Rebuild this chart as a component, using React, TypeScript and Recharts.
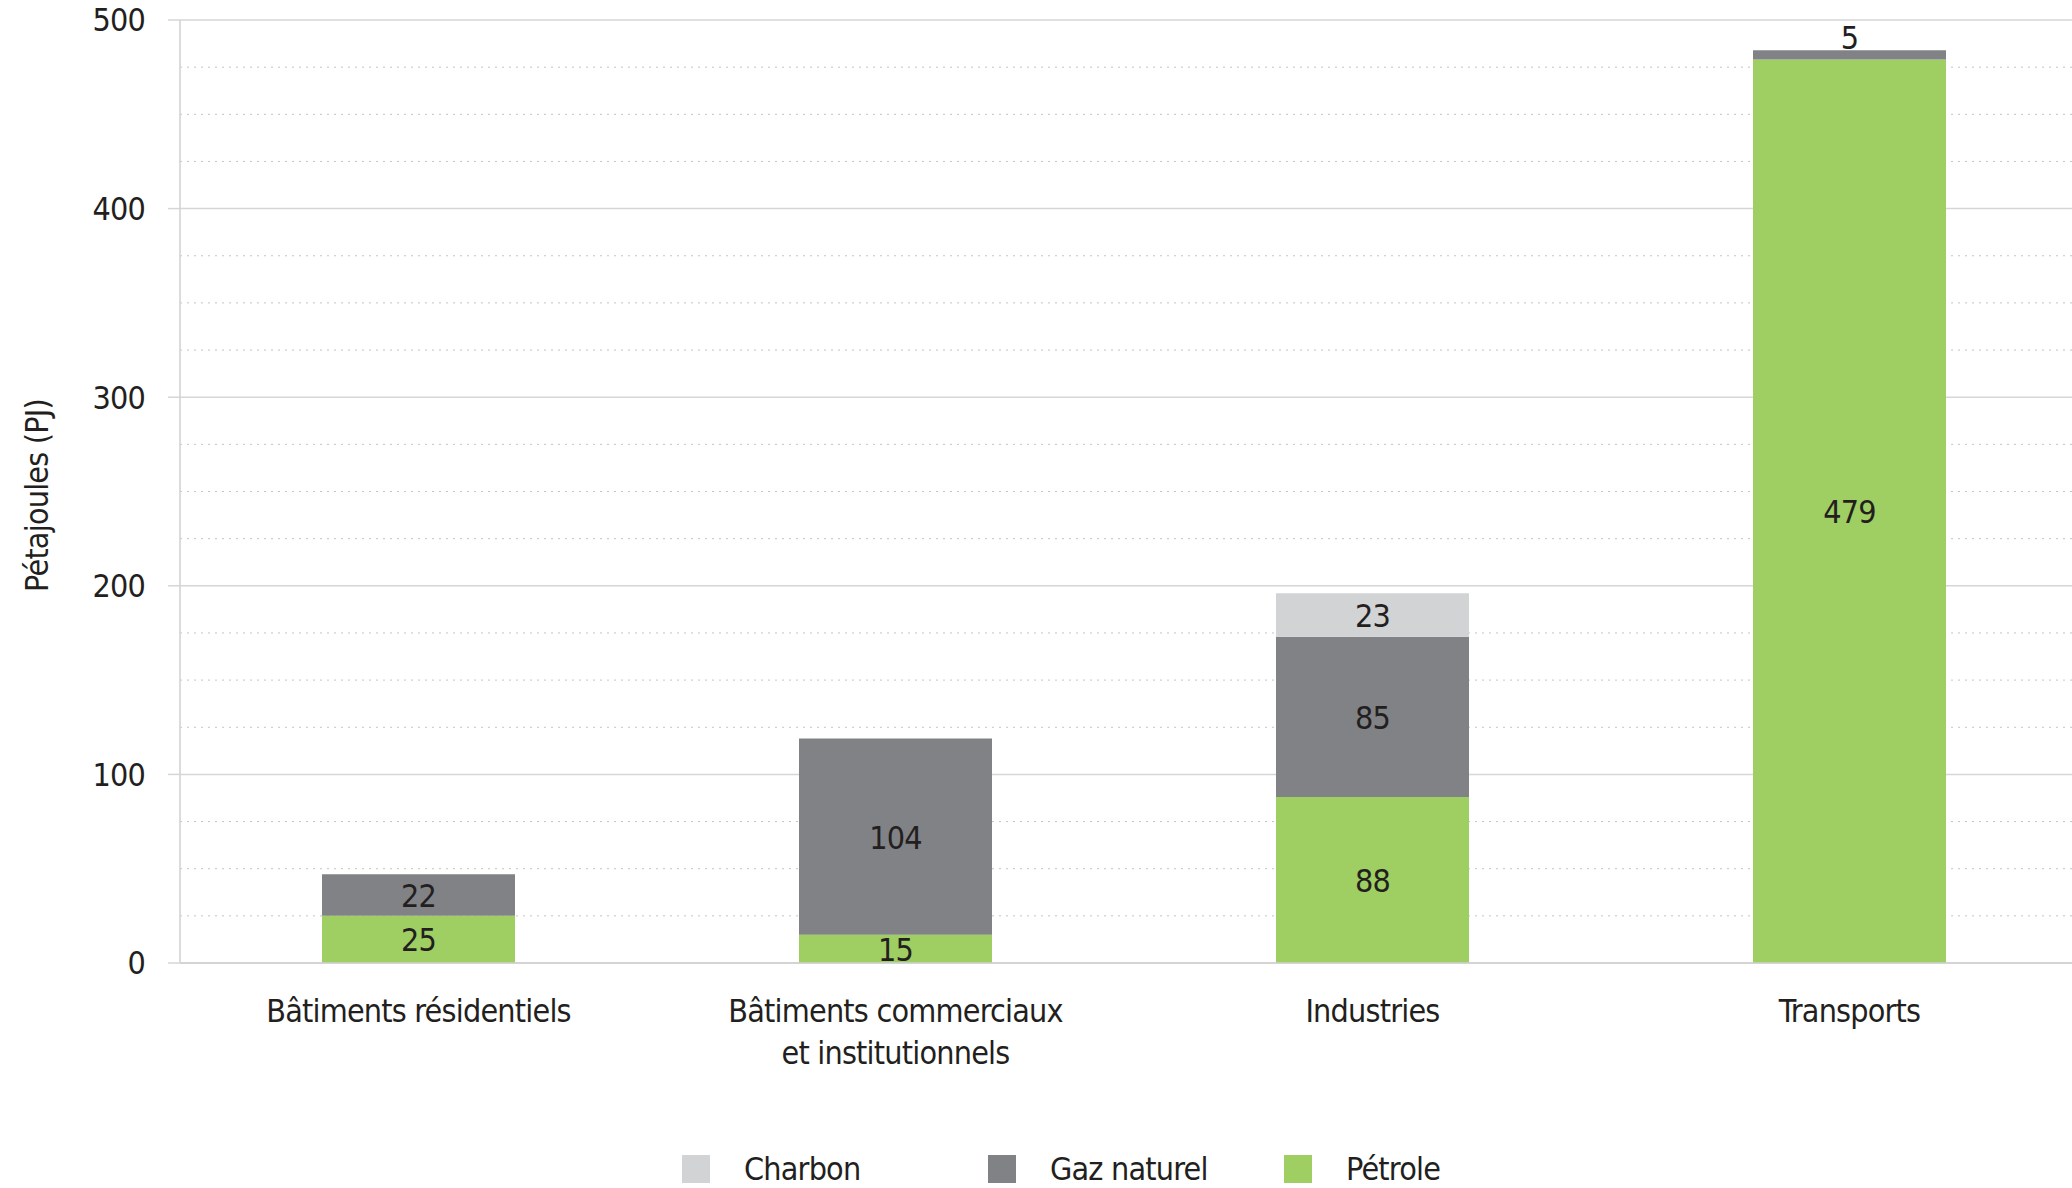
import React from "react";
import { Bar, BarChart, CartesianGrid, Label, LabelList, Legend, XAxis, YAxis } from "recharts";

const categories = [
  "Bâtiments résidentiels",
  "Bâtiments commerciaux\net institutionnels",
  "Industries",
  "Transports",
];
const petrole = [25, 15, 88, 479];
const gazNaturel = [22, 104, 85, 5];
const charbon = [null, null, 23, null];
const yTicks = [0, 100, 200, 300, 400, 500];
const minorTicks = [25, 50, 75, 125, 150, 175, 225, 250, 275, 325, 350, 375, 425, 450, 475];

const series = [
  { key: "charbon", name: "Charbon", color: "#d1d3d4" },
  { key: "gaz", name: "Gaz naturel", color: "#808285" },
  { key: "petrole", name: "Pétrole", color: "#9fce63" },
];

const data = categories.map((name, i) => ({
  name,
  petrole: petrole[i],
  gaz: gazNaturel[i],
  charbon: charbon[i],
}));

const FONT = '"Liberation Sans Narrow", "DejaVu Sans Condensed", "Roboto Condensed", Roboto, sans-serif';
const TEXT = "#231f20";
const FS = 32;
const LS = -0.8;
const Y_MAX = yTicks[yTicks.length - 1];

const renderValue = (props: any) => {
  const { x, y, width, height, value } = props;
  if (value == null) return null;
  const small = Math.abs(height) < 20;
  return (
    <text
      x={x + width / 2}
      y={small ? y - 1 : y + height / 2 + 1}
      textAnchor="middle"
      dominantBaseline={small ? "auto" : "central"}
      fontFamily={FONT}
      fontSize={FS}
      letterSpacing={LS}
      fill={TEXT}
    >
      {value}
    </text>
  );
};

const CategoryTick = ({ x, y, payload }: any) => {
  const lines = String(payload.value).split("\n");
  return (
    <text x={x} y={y + 51} textAnchor="middle" fontFamily={FONT} fontSize={FS} letterSpacing={LS} fill={TEXT}>
      {lines.map((l, i) => (
        <tspan key={i} x={x} dy={i === 0 ? 0 : 42}>
          {l}
        </tspan>
      ))}
    </text>
  );
};

const itemWidths = [306, 296, 300];

const renderLegend = () => (
  <div style={{ display: "flex", paddingLeft: 682, fontFamily: FONT, fontSize: FS, letterSpacing: LS, color: TEXT }}>
    {series.map((s, i) => (
      <div key={s.key} style={{ width: itemWidths[i], display: "flex", alignItems: "center", height: 34 }}>
        <span style={{ display: "inline-block", width: 28, height: 28, background: s.color, marginRight: 34 }} />
        <span style={{ lineHeight: "34px", whiteSpace: "nowrap" }}>{s.name}</span>
      </div>
    ))}
  </div>
);

// dotted minor lines every 25 PJ, placed from the plot offset
const minorLines = ({ offset }: any) =>
  minorTicks.map((v) => offset.top + offset.height * (1 - v / Y_MAX));

export default function App() {
  return (
    <div style={{ position: "absolute", top: 0, left: 0, width: 2072, height: 1188, overflow: "hidden", background: "#fff" }}>
      <BarChart
        width={2100}
        height={1188}
        data={data}
        margin={{ top: 20, right: 12, left: 0, bottom: 100 }}
        barSize={193}
      >
        <CartesianGrid
          vertical={false}
          stroke="#c4c4c4"
          strokeDasharray="2 5"
          horizontalCoordinatesGenerator={minorLines}
        />
        <CartesianGrid vertical={false} stroke="#d6d6d6" strokeWidth={1.5} />
        <XAxis
          dataKey="name"
          height={125}
          axisLine={{ stroke: "#d0d0d0", strokeWidth: 1.5 }}
          tickLine={false}
          tick={<CategoryTick />}
          interval={0}
        />
        <YAxis
          width={180}
          domain={[0, Y_MAX]}
          ticks={yTicks}
          interval={0}
          tickSize={12}
          tickMargin={23}
          axisLine={{ stroke: "#d0d0d0", strokeWidth: 1.5 }}
          tickLine={{ stroke: "#d6d6d6", strokeWidth: 1.5 }}
          tick={{ fill: TEXT, fontSize: FS, fontFamily: FONT, letterSpacing: LS }}
        >
          <Label
            content={({ viewBox }: any) => {
              const cy = viewBox.y + viewBox.height / 2 + 4;
              return (
                <text
                  x={37}
                  y={cy}
                  transform={`rotate(-90 37 ${cy})`}
                  textAnchor="middle"
                  dominantBaseline="central"
                  fontFamily={FONT}
                  fontSize={FS}
                  letterSpacing={LS}
                  fill={TEXT}
                >
                  Pétajoules (PJ)
                </text>
              );
            }}
          />
        </YAxis>
        <Legend
          layout="horizontal"
          verticalAlign="middle"
          align="center"
          content={renderLegend}
          wrapperStyle={{ top: 1152, left: 0, width: 2072, height: 34 }}
        />
        <Bar dataKey="petrole" name="Pétrole" stackId="a" fill="#9fce63" isAnimationActive={false}>
          <LabelList dataKey="petrole" content={renderValue} />
        </Bar>
        <Bar dataKey="gaz" name="Gaz naturel" stackId="a" fill="#808285" isAnimationActive={false}>
          <LabelList dataKey="gaz" content={renderValue} />
        </Bar>
        <Bar dataKey="charbon" name="Charbon" stackId="a" fill="#d1d3d4" isAnimationActive={false}>
          <LabelList dataKey="charbon" content={renderValue} />
        </Bar>
      </BarChart>
    </div>
  );
}
